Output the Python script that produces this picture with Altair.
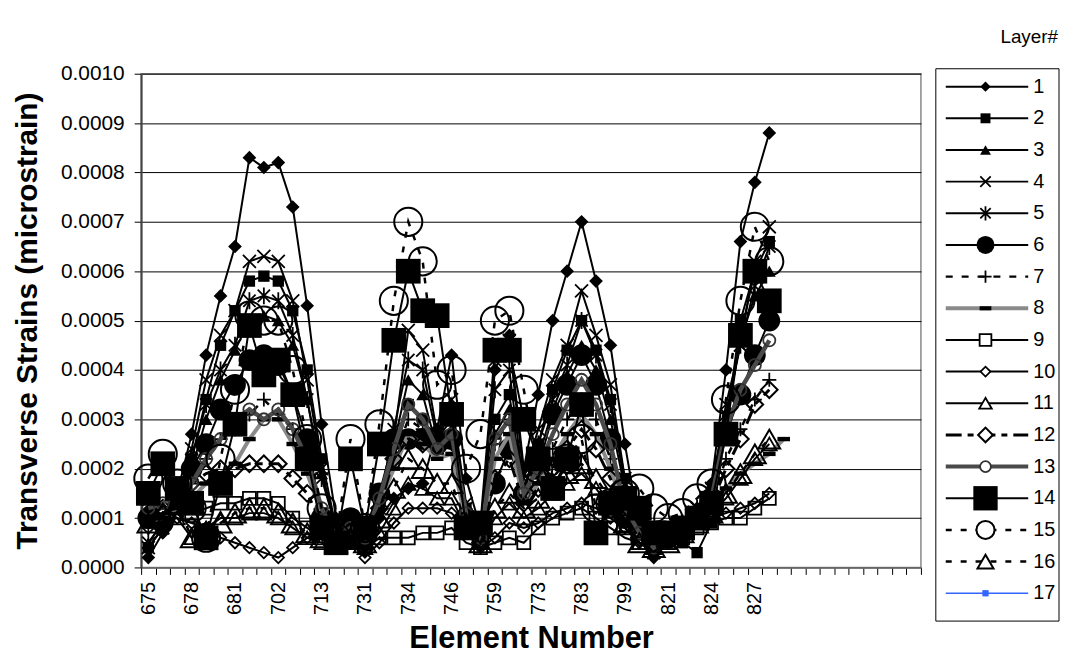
import altair as alt
import pandas as pd

# ---------------- data ----------------
# axis labels: one label every third element slot
shown_labels = ["675", "678", "681", "702", "713", "731", "734", "746",
                "759", "773", "783", "799", "821", "824", "827"]
LABEL_STEP = 3
N_SLOTS = 54

UNIT = 1e-5  # values below are in units of 0.00001

layer1 = [2, 7, 15, 27, 43, 55, 65, 83, 81, 82, 73, 53, 29, 10, 5, 4, 10, 14, 16, 17,
          28, 43, 18, 8, 40, 47, 20, 35, 50, 60, 70, 58, 45, 25, 8, 2, 5, 8, 12, 17,
          40, 66, 78, 88]
layer2 = [4, 8, 13, 22, 34, 45, 52, 58, 59, 58, 52, 40, 22, 8, 6, 5, 12, 22, 33, 30,
          26, 30, 12, 6, 30, 35, 15, 25, 36, 44, 50, 44, 34, 18, 7, 3, 6, 5, 3, 9,
          28, 50, 60, 66]
layer3 = [5, 9, 12, 20, 30, 38, 44, 50, 51, 50, 45, 34, 19, 8, 7, 6, 14, 25, 38, 35,
          24, 28, 11, 6, 27, 32, 14, 22, 32, 39, 45, 40, 30, 16, 7, 3, 6, 9, 11, 14,
          30, 46, 55, 60]
layer4 = [4, 8, 14, 24, 38, 47, 52, 62, 63, 62, 54, 38, 20, 7, 6, 5, 12, 26, 48, 44,
          27, 34, 13, 6, 42, 46, 18, 28, 38, 45, 56, 47, 37, 18, 6, 3, 6, 9, 12, 16,
          33, 45, 62, 69]
layer5 = [5, 9, 14, 22, 33, 40, 45, 54, 55, 54, 47, 34, 18, 8, 6, 5, 13, 28, 42, 40,
          26, 32, 12, 6, 36, 40, 16, 25, 34, 41, 50, 43, 33, 17, 7, 3, 6, 9, 12, 15,
          31, 45, 57, 65]
layer6 = [10, 9, 15, 20, 25, 32, 37, 42, 43, 41, 35, 26, 10, 6, 10, 8, 15, 26, 26, 26,
          25, 26, 10, 7, 17, 24, 15, 20, 31, 37, 43, 37, 26, 10, 8, 5, 6, 8, 10, 14,
          27, 35, 43, 50]
layer7 = [8, 10, 13, 17, 22, 26, 28, 31, 34, 31, 28, 22, 12, 5, 8, 6, 14, 22, 30, 28,
          23, 25, 10, 5, 25, 30, 14, 18, 24, 30, 34, 30, 22, 12, 6, 4, 6, 8, 10, 13,
          22, 28, 34, 38]
layer8 = [9, 10, 12, 14, 17, 19, 21, 26, 30, 30, 25, 19, 11, 6, 8, 6, 13, 20, 27, 25,
          22, 23, 9, 5, 22, 27, 13, 17, 22, 27, 31, 27, 20, 11, 6, 4, 6, 8, 9, 12,
          16, 19, 21, 23, 26]
layer9 = [10, 11, 12, 11, 12, 13, 13, 14, 14, 13, 10, 8, 6, 4, 5, 4, 6, 6, 6, 7,
          7, 8, 5, 4, 5, 6, 5, 8, 10, 11, 12, 10, 8, 6, 5, 4, 5, 6, 8, 9,
          10, 10, 12, 14]
layer10 = [8, 9, 10, 9, 8, 6, 5, 4, 3, 2, 4, 6, 8, 6, 5, 2, 5, 9, 12, 12,
           12, 11, 8, 4, 6, 9, 8, 9, 11, 12, 13, 12, 10, 8, 5, 3, 5, 7, 9, 10,
           11, 12, 13, 15]
layer11 = [11, 12, 10, 6, 8, 10, 10, 11, 11, 10, 8, 6, 5, 4, 5, 4, 7, 12, 17, 16,
           14, 14, 8, 5, 10, 13, 10, 12, 15, 17, 19, 16, 12, 8, 5, 4, 5, 7, 9, 11,
           14, 18, 22, 25]
layer12 = [11, 12, 14, 17, 19, 20, 20, 21, 21, 21, 18, 15, 9, 5, 6, 4, 12, 22, 26, 25,
           25, 26, 10, 5, 18, 22, 13, 16, 20, 24, 28, 24, 18, 10, 6, 4, 6, 8, 10, 13,
           20, 26, 33, 36]
layer13 = [12, 13, 15, 17, 22, 26, 30, 32, 30, 32, 28, 22, 12, 6, 8, 6, 14, 24, 33, 30,
           24, 27, 11, 6, 26, 30, 15, 20, 27, 33, 38, 33, 25, 12, 7, 4, 6, 8, 11, 14,
           28, 36, 41, 46]
layer14 = [15, 21, 16, 13, 6, 17, 29, 49, 39, 42, 35, 22, 8, 5, 22, 8, 25, 46, 60, 52,
           51, 31, 8, 9, 44, 44, 30, 22, 16, 22, 33, 7, 13, 14, 12, 7, 7, 8, 10, 13,
           27, 47, 60, 54]
layer15 = [18, 23, 17, 12, 6, 22, 36, 51, 50, 50, 40, 26, 12, 6, 26, 8, 29, 54, 70, 62,
           37, 40, 20, 27, 50, 52, 36, 20, 18, 22, 26, 12, 13, 15, 16, 12, 10, 11, 14, 17,
           34, 54, 69, 62]
layer16 = [9, 11, 13, 6, 7, 9, 11, 12, 12, 11, 9, 7, 6, 5, 6, 5, 10, 16, 22, 20,
           17, 17, 9, 5, 12, 15, 12, 14, 17, 19, 21, 18, 14, 9, 5, 4, 5, 7, 9, 11,
           15, 19, 23, 26]
layer17 = []

layers = [layer1, layer2, layer3, layer4, layer5, layer6, layer7, layer8, layer9,
          layer10, layer11, layer12, layer13, layer14, layer15, layer16, layer17]
layer_ids = list(range(1, 18))

rows = []
for lid, vals in zip(layer_ids, layers):
    for i, v in enumerate(vals):
        rows.append({"layer": lid, "idx": i, "value": v * UNIT})
df = pd.DataFrame(rows, columns=["layer", "idx", "value"])

legend_df = pd.DataFrame({"layer": layer_ids, "label": [str(i) for i in layer_ids]})

# ---------------- styles ----------------
FONT = "Liberation Sans"
X_PATH = "M-1,-1L1,1M-1,1L1,-1"
AST_PATH = "M-0.8,-0.8L0.8,0.8M-0.8,0.8L0.8,-0.8M0,-1.1L0,1.1"
PLUS_PATH = "M-1,0L1,0M0,-1L0,1"
DASH_PATH = "M-1,-0.35L1,-0.35L1,0.35L-1,0.35Z"

def st(shape, filled, size, lsize, lw=2, color="black", dash=None, mcolor="black", mw=1.8):
    return dict(shape=shape, filled=filled, size=size, lsize=lsize, lw=lw,
                color=color, dash=dash, mcolor=mcolor, mw=mw)

styles = [
    st("diamond", True, 190, 110),                        # 1
    st("square", True, 130, 100),                         # 2
    st("triangle-up", True, 170, 120),                    # 3
    st(X_PATH, False, 170, 110),                          # 4
    st(AST_PATH, False, 240, 170),                        # 5
    st("circle", True, 480, 330),                         # 6
    st(PLUS_PATH, False, 200, 150, lw=2.5, dash=[7, 9]),  # 7
    st(DASH_PATH, True, 160, 140, lw=4, color="#8a8a8a"), # 8
    st("square", False, 170, 140),                        # 9
    st("diamond", False, 130, 100),                       # 10
    st("triangle-up", False, 220, 160),                   # 11
    st("diamond", False, 280, 220, lw=3, dash=[16, 6, 6, 6], mw=2),  # 12
    st("circle", False, 150, 120, lw=4.5, color="#4a4a4a", mcolor="#333333"),  # 13
    st("square", True, 620, 600),                         # 14
    st("circle", False, 800, 330, lw=2.5, dash=[6, 9], mw=2),  # 15
    st("triangle-up", False, 480, 260, lw=2.5, dash=[6, 9], mw=2),  # 16
    st("square", True, 40, 40, lw=1.5, color="#3366ff", mcolor="#3366ff"),  # 17
]

# ---------------- main plot ----------------
PLOT_W, PLOT_H = 785, 497
half_band = PLOT_W / N_SLOTS / 2

slot_labels = ["" for _ in range(N_SLOTS + 1)]
for k, lab in enumerate(shown_labels):
    slot_labels[k * LABEL_STEP] = lab
label_expr = "[" + ",".join("'%s'" % s for s in slot_labels) + "][datum.value]"

x_axis = alt.Axis(values=list(range(0, N_SLOTS + 1)), labelExpr=label_expr,
                  labelAngle=270, labelAlign="right", labelBaseline="middle",
                  labelOffset=half_band, labelOverlap=False, labelFlush=False,
                  labelBound=False, labelFontSize=20, labelPadding=7,
                  labelColor="black", labelFont=FONT,
                  tickSize=7, tickColor="black", tickWidth=1,
                  domainColor="#777777", domainWidth=1.5, grid=False,
                  title="Element Number", titleFont=FONT, titleFontSize=31,
                  titleFontWeight="bold", titleColor="black", titlePadding=9)
y_axis = alt.Axis(values=[i / 10000 for i in range(11)], format=".4f",
                  grid=True, gridColor="black", gridWidth=1,
                  tickSize=7, tickColor="black", domainColor="#444444", domainWidth=2,
                  labelFontSize=21, labelPadding=10, labelColor="black", labelFont=FONT,
                  title="Transverse Strains (microstrain)", titleFont=FONT,
                  titleFontSize=30, titleFontWeight="bold", titleColor="black",
                  titlePadding=18)

x_enc = alt.X("pos:Q", scale=alt.Scale(domain=[0, N_SLOTS], nice=False, zero=False), axis=x_axis)
y_enc = alt.Y("value:Q", scale=alt.Scale(domain=[0, 0.001], nice=False), axis=y_axis)

base = alt.Chart(df).transform_calculate(pos="datum.idx + 0.5")
main_layers = []
for lid, s in zip(layer_ids, styles):
    sub = base.transform_filter(alt.datum.layer == lid)
    lkw = dict(color=s["color"], strokeWidth=s["lw"])
    if s["dash"]:
        lkw["strokeDash"] = s["dash"]
    main_layers.append(sub.mark_line(**lkw).encode(x=x_enc, y=y_enc))
    main_layers.append(
        sub.mark_point(shape=s["shape"], size=s["size"], filled=s["filled"],
                       color=s["mcolor"], strokeWidth=s["mw"], opacity=1)
        .encode(x=x_enc, y=y_enc))

main = alt.layer(*main_layers).properties(
    width=PLOT_W, height=PLOT_H,
    view=alt.ViewBackground(stroke="#888888", strokeWidth=1.5))

# ---------------- legend panel ----------------
LEG_W = 124
ly = alt.Y("layer:Q", scale=alt.Scale(domain=[1, 17], range=[13, 523], nice=False, zero=False),
           axis=None)
one = alt.Chart(pd.DataFrame({"k": [0]}))
leg_layers = [
    one.mark_rect(fill="white", stroke="black", strokeWidth=1).encode(
        x=alt.value(0), x2=alt.value(LEG_W), y=alt.value(-5), y2=alt.value(551)),
    one.mark_text(text="Layer#", align="left", baseline="middle", fontSize=19,
                  font=FONT, color="black").encode(x=alt.value(65), y=alt.value(-37)),
]
lbase = alt.Chart(legend_df)
for lid, s in zip(layer_ids, styles):
    sub = lbase.transform_filter(alt.datum.layer == lid)
    rkw = dict(color=s["color"], strokeWidth=min(s["lw"], 4))
    if s["dash"]:
        rkw["strokeDash"] = s["dash"]
    leg_layers.append(sub.mark_rule(**rkw).encode(x=alt.value(10), x2=alt.value(93), y=ly))
    leg_layers.append(
        sub.mark_point(shape=s["shape"], size=s["lsize"], filled=s["filled"],
                       color=s["mcolor"], strokeWidth=s["mw"], opacity=1,
                       fill=(s["mcolor"] if s["filled"] else "white"))
        .encode(x=alt.value(50), y=ly))
leg_layers.append(
    lbase.mark_text(align="left", baseline="middle", fontSize=20, font=FONT, color="black")
    .encode(x=alt.value(98), y=ly, text="label:N"))

legend = alt.layer(*leg_layers).properties(
    width=LEG_W, height=PLOT_H,
    view=alt.ViewBackground(stroke="transparent"))

chart = alt.hconcat(main, legend, spacing=15, bounds="flush").properties(
    padding={"left": 4, "top": 17, "right": 0, "bottom": 0},
    background="white",
).configure(font=FONT)

chart.save("out.html", embed_options={"renderer": "svg", "actions": False})
